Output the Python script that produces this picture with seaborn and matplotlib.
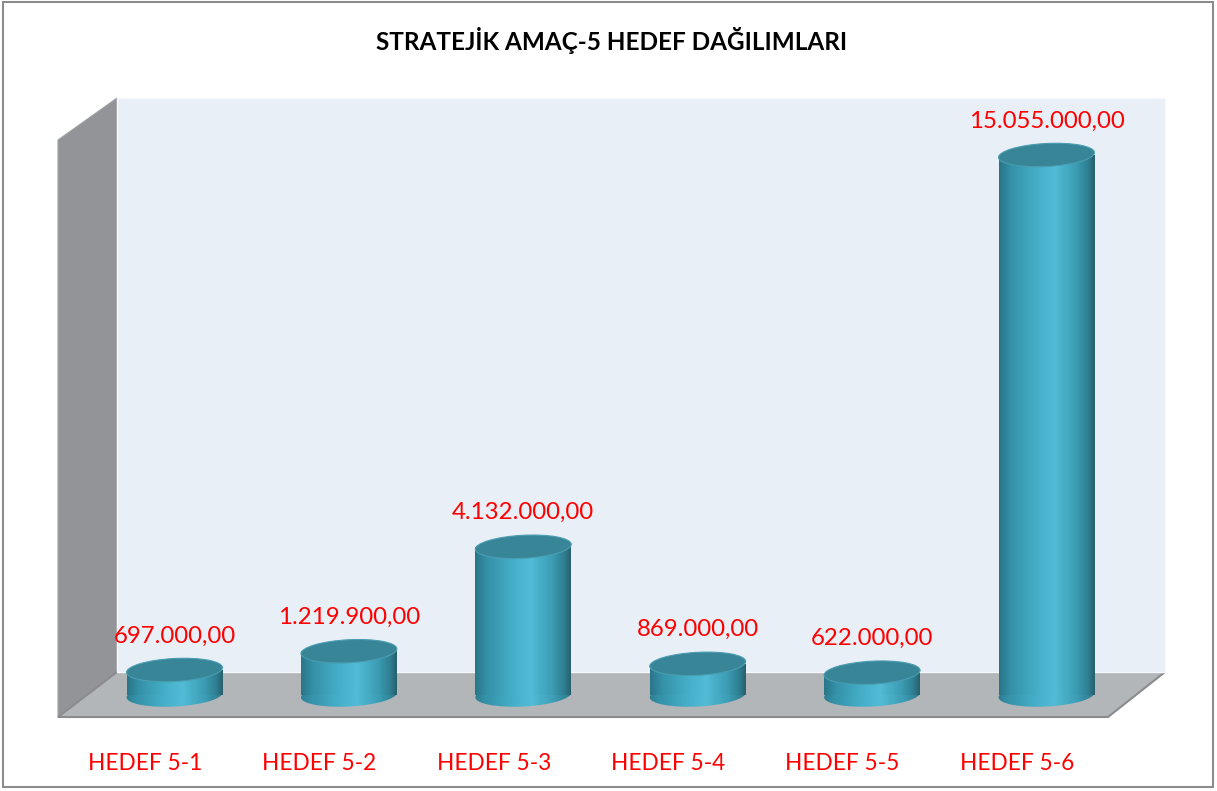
import numpy as np
import pandas as pd
import matplotlib
matplotlib.use("Agg")
import matplotlib.pyplot as plt
import matplotlib.transforms as mtransforms
from matplotlib.patches import Polygon, Ellipse, Rectangle
from matplotlib.colors import LinearSegmentedColormap
import seaborn as sns

# veriler
hedefler = ['HEDEF 5-1', 'HEDEF 5-2', 'HEDEF 5-3', 'HEDEF 5-4', 'HEDEF 5-5', 'HEDEF 5-6']
tutarlar = [697000.00, 1219900.00, 4132000.00, 869000.00, 622000.00, 15055000.00]
baslik = 'STRATEJİK AMAÇ-5 HEDEF DAĞILIMLARI'

df = pd.DataFrame({'Hedef': hedefler, 'Tutar': tutarlar})

def tr_format(v):
    s = f"{v:,.2f}"
    return s.replace(',', 'X').replace('.', ',').replace('X', '.')

sns.set_style('white')
plt.rcParams['font.family'] = ['Lato', 'DejaVu Sans']

W, H = 1217, 791
fig = plt.figure(figsize=(W / 100, H / 100), dpi=100)

def px(x, y):
    return (x / W, 1 - y / H)

# cerceve
fig.patches.append(Rectangle(px(3, 787), 1210 / W, 785 / H, transform=fig.transFigure,
                             fill=False, edgecolor='#8c8c8c', lw=1.5, zorder=-1))

# sol duvar ve zemin
fig.patches.append(Polygon([px(58, 140), px(117, 98), px(117, 672), px(58, 717)],
                           closed=True, transform=fig.transFigure,
                           facecolor='#929498', edgecolor='#a0a2a5', lw=0.8, zorder=-1))
fig.patches.append(Polygon([px(117, 672), px(1165, 672), px(1108, 717), px(58, 717)],
                           closed=True, transform=fig.transFigure,
                           facecolor='#b3b6b9', edgecolor='#8a8b8d', lw=1.5, zorder=-1))
fig.patches.append(Rectangle(px(117, 672), 1048 / W, 574 / H, transform=fig.transFigure,
                             facecolor='#e8eff6', edgecolor='#f6f8fb', lw=1, zorder=-1))

# eksen: arka duvar bolgesi
ax = fig.add_axes([117 / W, 1 - 717 / H, 1048 / W, 619 / H])
ax.patch.set_alpha(0)
ax.set_zorder(2)

bar_w = 96 / 174.4
sns.barplot(data=df, x='Hedef', y='Tutar', color='#45adc7', width=bar_w,
            ax=ax, zorder=3, linewidth=0)

s = 15055000 / 540.0  # deger / piksel

cyl = LinearSegmentedColormap.from_list('cyl', [
    (0.0, '#2a7587'), (0.12, '#3490a7'), (0.35, '#42aac4'),
    (0.58, '#52bcd6'), (0.8, '#3c9db5'), (0.93, '#2f7f92'), (1.0, '#275f6d')])
grad = np.linspace(0, 1, 256).reshape(1, -1)

eh = 23 / 100  # elips yuksekligi (inc)
ew = 96 / 100
tilt = 3

for i, p in enumerate(list(ax.patches)):
    x0 = p.get_x()
    x1 = x0 + p.get_width()
    xc = (x0 + x1) / 2
    v = p.get_height()
    p.set_alpha(0)
    im = ax.imshow(grad, extent=[x0, x1, 0, v], aspect='auto', cmap=cyl,
                   zorder=3, interpolation='bilinear')
    im.set_clip_path(p)
    # alt elips
    tb = fig.dpi_scale_trans + mtransforms.ScaledTranslation(xc, 0, ax.transData)
    e_bot = Ellipse((0, 0), ew, eh, angle=tilt, transform=tb, facecolor='none',
                    edgecolor='none')
    ax.add_patch(e_bot)
    im2 = ax.imshow(grad, extent=[x0 - 0.02, x1 + 0.02, -20 * s, 20 * s], aspect='auto',
                    cmap=cyl, zorder=2.9, interpolation='bilinear')
    im2.set_clip_path(e_bot)
    # ust elips
    tt = fig.dpi_scale_trans + mtransforms.ScaledTranslation(xc, v, ax.transData)
    ax.add_patch(Ellipse((0, 0), ew, eh, angle=tilt, transform=tt, facecolor='#388598',
                         edgecolor='#4a9db1', lw=0.8, zorder=4))
    # deger etiketi
    lt = ax.transData + mtransforms.ScaledTranslation(0, 0.34, fig.dpi_scale_trans)
    ax.text(xc, v, tr_format(tutarlar[i]), transform=lt, ha='center', va='center',
            color='#ff0000', fontsize=17.3, zorder=5)

ax.set_xlim((117 - 174.5) / 174.4, (1165 - 174.5) / 174.4)
ax.set_ylim(-(717 - 695) * s, (695 - 98) * s)

ax.set_xlabel('')
ax.set_ylabel('')
ax.set_yticks([])
ax.tick_params(axis='x', length=0, pad=26, labelsize=16.3, labelcolor='#ff0000')
off = mtransforms.ScaledTranslation(-0.295, 0, fig.dpi_scale_trans)
for lab in ax.get_xticklabels():
    lab.set_transform(lab.get_transform() + off)
for sp in ax.spines.values():
    sp.set_visible(False)

fig.text(611.5 / W, 1 - 40 / H, baslik, ha='center', va='center',
         fontsize=17.5, fontweight='bold', color='#000000')

fig.savefig('out.png', dpi=100)
